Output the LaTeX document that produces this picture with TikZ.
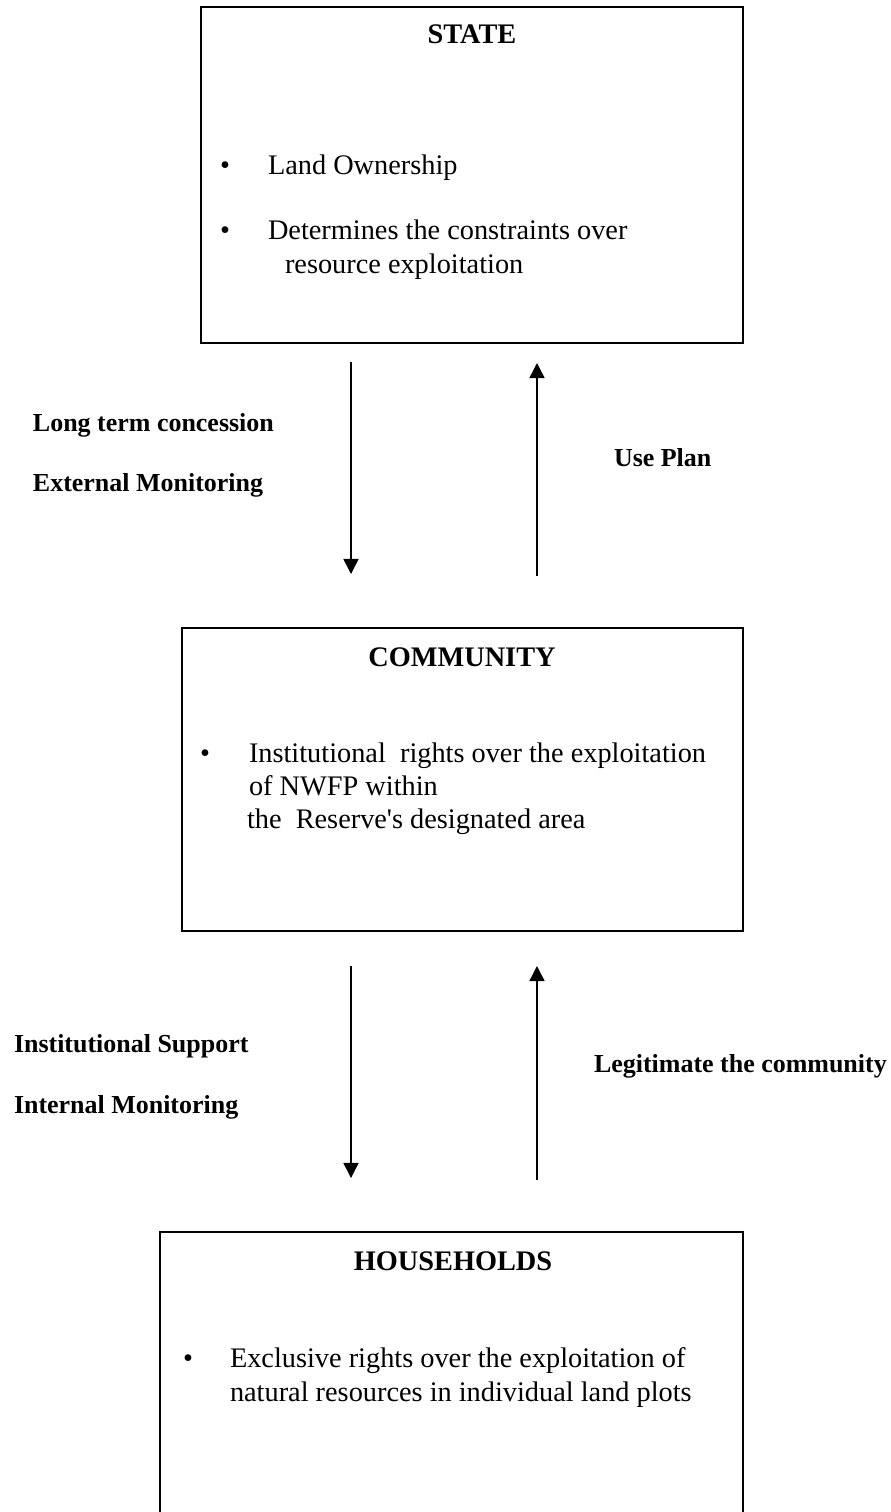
\documentclass[tikz,border=0pt]{standalone}
\usepackage{fontspec}
\setmainfont{Liberation Serif}
\usetikzlibrary{arrows.meta,positioning}

\newlength{\pxu}
\setlength{\pxu}{0.4237pt}

\begin{document}
\begin{tikzpicture}[
    x=0.4237pt, y=-0.4237pt,
    every node/.style={inner sep=0pt, outer sep=0pt, font=\fontsize{12}{14.2}\selectfont},
    panel/.style={draw, line width=0.9pt, minimum width=#1},
    head/.style={font=\bfseries\fontsize{12}{14.2}\selectfont, anchor=base},
    item/.style={anchor=base west},
    dot/.style={anchor=base west},
    flowlabel/.style={font=\bfseries\fontsize{11}{13}\selectfont, anchor=base west},
    flow/.style={line width=0.6pt, -{Triangle[length=6.4pt, width=6.4pt]}},
]

\useasboundingbox (0,0) rectangle (890,1512);
\clip (0,0) rectangle (890,1512);

% Boxes
\node[panel=542\pxu, minimum height=336\pxu] (state) at (472,175) {};
\node[panel=561\pxu, minimum height=303\pxu] (community) at (462.5,779.5) {};
\node[panel=583\pxu, minimum height=316\pxu] (households) at (451.5,1390) {};

% State
\node[head] (statehead) at (472,43) {STATE};
\node[dot] (sdot1) at (220,174) {•};
\node[item] (sitem1) at (268,174) {Land Ownership};
\node[dot] (sdot2) at (220,239) {•};
\node[item] (sitem2) at (268,239) {Determines the constraints over};
\node[item] (sitem2b) at (285,273) {resource exploitation};

% Community
\node[head] (commhead) at (462,666) {COMMUNITY};
\node[dot] (cdot1) at (200,762) {•};
\node[item] (citem1) at (249,762) {Institutional \ rights over the exploitation};
\node[item] (citem1b) at (249,795) {of NWFP within};
\node[item] (citem1c) at (247,828) {the \ Reserve\textquotesingle s designated area};

% Households
\node[head] (hhhead) at (453,1270) {HOUSEHOLDS};
\node[dot] (hdot1) at (183,1367) {•};
\node[item] (hitem1) at (230,1367) {Exclusive rights over the exploitation of};
\node[item] (hitem1b) at (230,1401) {natural resources in individual land plots};

% Flows between state and community
\coordinate (down1a) at (351,362);
\coordinate (down1b) at (351,574);
\coordinate (up1a) at (537,576);
\coordinate (up1b) at (537,363);
\draw[flow] (down1a) -- (down1b);
\draw[flow] (up1a) -- (up1b);
\node[flowlabel] (lconc) at (33,431) {Long term concession};
\node[flowlabel] (lextm) at (33,491) {External Monitoring};
\node[flowlabel] (luse) at (614,466) {Use Plan};

% Flows between community and households
\coordinate (down2a) at (351,966);
\coordinate (down2b) at (351,1178);
\coordinate (up2a) at (537,1180);
\coordinate (up2b) at (537,966);
\draw[flow] (down2a) -- (down2b);
\draw[flow] (up2a) -- (up2b);
\node[flowlabel] (linst) at (14,1052) {Institutional Support};
\node[flowlabel] (lintm) at (14,1113) {Internal Monitoring};
\node[flowlabel] (llegit) at (594,1072) {Legitimate the community};

\end{tikzpicture}
\end{document}
